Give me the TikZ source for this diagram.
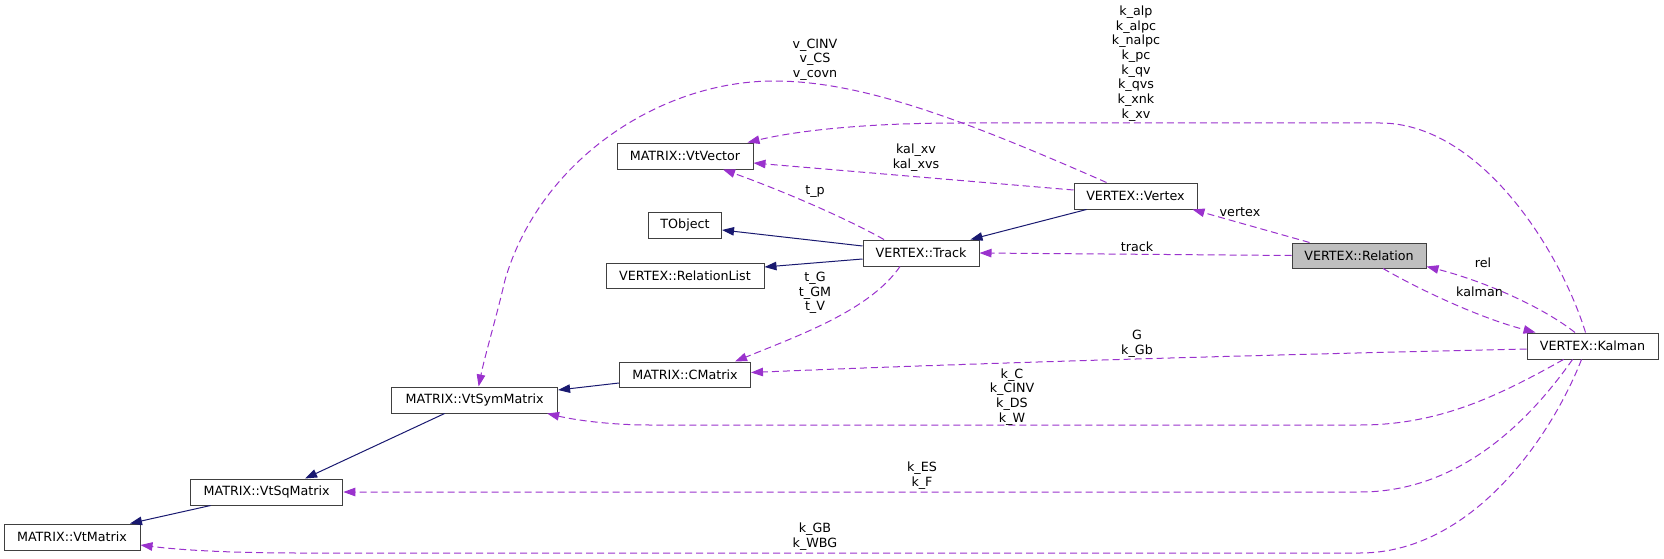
\documentclass[tikz,border=0pt]{standalone}
\usepackage{fontspec}
\setmainfont{DejaVu Sans}
\usetikzlibrary{arrows.meta,calc}
\definecolor{navyedge}{HTML}{191970}
\definecolor{orchid}{HTML}{9A32CD}
\definecolor{boxline}{HTML}{404040}
\definecolor{relfill}{HTML}{BFBFBF}
\begin{document}
\begin{tikzpicture}[x=1pt,y=-1pt,
  cls/.style={draw=boxline, fill=white, line width=1pt, inner sep=0pt, minimum height=26pt, font=\fontsize{12.7}{14.7}\selectfont},
  inh/.style={draw=navyedge, line width=1pt, -{Triangle[length=12pt,width=8.5pt]}},
  use/.style={draw=orchid, line width=1pt, dash pattern=on 7pt off 4pt, -{Triangle[length=12pt,width=8.5pt]}},
  lbl/.style={inner sep=0pt, align=center, font=\fontsize{12.7}{14.7}\selectfont}]
\useasboundingbox (0,0) rectangle (1664,559);

% nodes
\node[cls, minimum width=136pt] (vtvector) at (685,156) {MATRIX::VtVector};
\node[cls, minimum width=73pt] (tobject) at (685,225) {TObject};
\node[cls, minimum width=158pt, minimum height=25pt] (rellist) at (685,275.5) {VERTEX::RelationList};
\node[cls, minimum width=116pt] (track) at (921,253) {VERTEX::Track};
\node[cls, minimum width=123pt] (vertex) at (1135.5,196) {VERTEX::Vertex};
\node[cls, fill=relfill, minimum width=134pt, minimum height=25pt] (relation) at (1359,255.5) {VERTEX::Relation};
\node[cls, minimum width=131pt] (kalman) at (1592.5,346) {VERTEX::Kalman};
\node[cls, minimum width=131pt, minimum height=25pt] (cmatrix) at (685,374.5) {MATRIX::CMatrix};
\node[cls, minimum width=166pt] (vtsym) at (474.6,400) {MATRIX::VtSymMatrix};
\node[cls, minimum width=152.5pt] (vtsq) at (266.6,492) {MATRIX::VtSqMatrix};
\node[cls, minimum width=136pt] (vtmatrix) at (72,537) {MATRIX::VtMatrix};

% inheritance
\draw[inh] ($(track.west)+(0,-7)$) -- ($(tobject.east)+(0,5)$);
\draw[inh] ($(track.west)+(0,6)$) -- ($(rellist.east)+(0,-8.5)$);
\draw[inh] ($(vertex.south west)+(13,0)$) -- ($(track.north east)+(-9,0)$);
\draw[inh] ($(cmatrix.west)+(0,8.5)$) -- ($(vtsym.east)+(0,-10)$);
\draw[inh] ($(vtsym.south)+(-30,0)$) -- ($(vtsq.north)+(38.5,0)$);
\draw[inh] ($(vtsq.south)+(-56,0)$) -- ($(vtmatrix.north)+(58,0)$);

% usage
\draw[use] ($(track.north)+(-37,0)$) .. controls (840,215) and (775,188) .. ($(vtvector.south)+(38,0)$);
\draw[use] ($(vertex.west)+(0,-6)$) -- ($(vtvector.east)+(0,7)$);
\draw[use] ($(vertex.north west)+(33,0)$) .. controls (960,118) and (860,81) .. (774,81)
   .. controls (660,81) and (540,160) .. (505,280)
   .. controls (497,315) and (485,355) .. ($(vtsym.north)+(4,0)$);
\draw[use] ($(kalman.north)+(-7,0)$) .. controls (1560,250) and (1480,123) .. (1380,123)
   -- (960,123) .. controls (870,123) and (800,130) .. ($(vtvector.north east)+(-6,0)$);
\draw[use] ($(relation.north west)+(18,0)$) -- ($(vertex.south east)+(-5,0)$);
\draw[use] (relation.west) -- (track.east);
\draw[use] ($(kalman.north)+(-17.5,0)$) .. controls (1540,305) and (1480,280) .. ($(relation.south east)+(0,-2)$);
\draw[use] ($(relation.south)+(24,0)$) .. controls (1420,290) and (1480,318) .. ($(kalman.north west)+(9,0)$);
\draw[use] ($(track.south)+(-21,0)$) .. controls (870,310) and (800,335) .. ($(cmatrix.north east)+(-16,0)$);
\draw[use] ($(kalman.west)+(0,3)$) .. controls (1300,354) and (1000,362) .. ($(cmatrix.east)+(0,-2)$);
\draw[use] ($(kalman.south)+(-29,0)$) .. controls (1500,395) and (1440,425) .. (1360,425)
   -- (650,425) .. controls (610,425) and (575,420) .. ($(vtsym.south east)+(-11,0)$);
\draw[use] ($(kalman.south)+(-20,0)$) .. controls (1530,420) and (1460,492) .. (1360,492) -- (vtsq.east);
\draw[use] ($(kalman.south)+(-11,0)$) .. controls (1550,440) and (1470,553) .. (1360,553)
   -- (300,553) .. controls (230,553) and (180,550) .. ($(vtmatrix.east)+(0,8)$);

% labels
\node[lbl] (ltp) at (815,192) {t\_p};
\node[lbl] (lkal) at (916,157.5) {kal\_xv\\kal\_xvs};
\node[lbl] (lv) at (815,59.5) {v\_CINV\\v\_CS\\v\_covn};
\node[lbl] (lk) at (1136,63.5) {k\_alp\\k\_alpc\\k\_nalpc\\k\_pc\\k\_qv\\k\_qvs\\k\_xnk\\k\_xv};
\node[lbl] (lvertex) at (1240,212) {vertex};
\node[lbl] (ltrack) at (1137,247) {track};
\node[lbl] (lrel) at (1483,263) {rel};
\node[lbl] (lkalman) at (1479.5,292) {kalman};
\node[lbl] (ltg) at (815,293) {t\_G\\t\_GM\\t\_V};
\node[lbl] (lg) at (1137,343.5) {G\\k\_Gb};
\node[lbl] (lkc) at (1012,397) {k\_C\\k\_CINV\\k\_DS\\k\_W};
\node[lbl] (lkes) at (922,476) {k\_ES\\k\_F};
\node[lbl] (lkgb) at (815,537) {k\_GB\\k\_WBG};
\end{tikzpicture}
\end{document}
